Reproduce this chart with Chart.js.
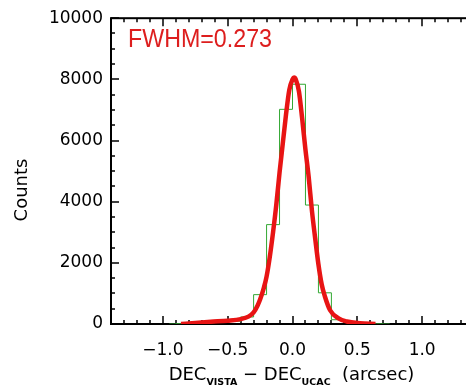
<!DOCTYPE html>
<html>
<head>
<meta charset="utf-8">
<script src="https://cdn.jsdelivr.net/npm/chart.js@4.4.1/dist/chart.umd.min.js"></script>
<style>
  html, body { margin: 0; padding: 0; background: #fff; overflow: hidden; }
  #wrap { width: 480px; height: 388px; }
</style>
</head>
<body>
<div id="wrap"><canvas id="histo" width="480" height="388"></canvas></div>
<script>
// histogram of the offsets, 0.1 arcsec bins (points sit at the bin centres, IDL psym=10 style)
const binCenters = [-0.95, -0.85, -0.75, -0.65, -0.55, -0.45, -0.35, -0.25, -0.15, -0.05,
                    0.05, 0.15, 0.25, 0.35, 0.45, 0.55, 0.65, 0.75];
const binCounts = [0, 10, 20, 40, 60, 90, 230, 960, 3250, 7020,
                   7840, 3890, 1020, 140, 50, 20, 5, 0];

// red fitted profile
const fitX = [-0.86, -0.75, -0.63, -0.5, -0.4, -0.34, -0.3, -0.27, -0.25, -0.22, -0.2, -0.175,
              -0.15, -0.125, -0.1, -0.075, -0.05, -0.025, 0, 0.012, 0.025, 0.05, 0.075, 0.1,
              0.125, 0.15, 0.175, 0.2, 0.225, 0.25, 0.29, 0.355, 0.42, 0.52, 0.64];
const fitY = [0, 35, 75, 110, 160, 240, 380, 600, 800, 1200, 1550, 2200,
              3000, 3900, 4950, 5900, 6850, 7650, 8000, 8060, 8000, 7600, 6700, 5700,
              4800, 3700, 2800, 1950, 1300, 900, 450, 185, 80, 25, 0];

const xTicks = [-1.0, -0.5, 0.0, 0.5, 1.0];
const yTicks = [0, 2000, 4000, 6000, 8000, 10000];
const fwhmLabel = 'FWHM=0.273';

const FONT = 'DejaVu Sans';

// IDL style frame: box with inward ticks, plus the free texts
const idlFrame = {
  id: 'idlFrame',
  beforeDatasetsDraw(chart) {
    const { ctx, chartArea: a, scales: { x, y } } = chart;
    ctx.save();
    ctx.strokeStyle = '#000';
    ctx.lineWidth = 2;
    ctx.strokeRect(a.left, a.top, a.right - a.left, a.bottom - a.top);
    ctx.lineWidth = 1.5;
    ctx.beginPath();
    for (let i = -14; i <= 14; i++) {
      const px = Math.round(x.getPixelForValue(i / 10));
      const len = i % 5 === 0 ? 8 : 4;
      ctx.moveTo(px, a.bottom); ctx.lineTo(px, a.bottom - len);
      ctx.moveTo(px, a.top); ctx.lineTo(px, a.top + len);
    }
    for (let v = 0; v <= 10000; v += 500) {
      const py = Math.round(y.getPixelForValue(v));
      const len = v % 2000 === 0 ? 8 : 4;
      ctx.moveTo(a.left, py); ctx.lineTo(a.left + len, py);
      ctx.moveTo(a.right, py); ctx.lineTo(a.right - len, py);
    }
    ctx.stroke();
    ctx.restore();
  },
  afterDraw(chart) {
    const { ctx } = chart;
    ctx.save();
    // y title
    ctx.fillStyle = '#000';
    ctx.font = '18px ' + FONT;
    ctx.textAlign = 'center';
    ctx.textBaseline = 'middle';
    ctx.translate(22, 190);
    ctx.rotate(-Math.PI / 2);
    ctx.fillText('Counts', 0, 0);
    ctx.restore();

    // x title with subscripts
    ctx.save();
    const big = '18px ' + FONT, small = 'bold 9.5px ' + FONT;
    const parts = [
      ['DEC', big, 0], ['VISTA', small, 5], [' \u2212 ', big, 0],
      ['DEC', big, 0], ['UCAC', small, 5], ['  (arcsec)', big, 0]
    ];
    let total = 0;
    parts.forEach(p => { ctx.font = p[1]; total += ctx.measureText(p[0]).width; });
    let cx = 291.5 - total / 2;
    ctx.fillStyle = '#000';
    ctx.textBaseline = 'alphabetic';
    parts.forEach(p => {
      ctx.font = p[1];
      ctx.fillText(p[0], cx, 380 + p[2]);
      cx += ctx.measureText(p[0]).width;
    });
    ctx.restore();

    // FWHM annotation, squeezed like the IDL font
    ctx.save();
    ctx.font = '25px "Liberation Sans"';
    ctx.fillStyle = '#dd1e1e';
    ctx.textBaseline = 'alphabetic';
    const w = ctx.measureText(fwhmLabel).width;
    ctx.translate(128, 47);
    ctx.scale(144 / w, 1);
    ctx.fillText(fwhmLabel, 0, 0);
    ctx.restore();
  }
};

new Chart(document.getElementById('histo'), {
  type: 'line',
  data: {
    datasets: [
      {
        label: 'fit',
        data: fitX.map((v, i) => ({ x: v, y: fitY[i] })),
        borderColor: '#e81414',
        borderWidth: 4.5,
        pointRadius: 0,
        cubicInterpolationMode: 'monotone',
        fill: false
      },
      {
        label: 'histogram',
        data: binCenters.map((v, i) => ({ x: v, y: binCounts[i] })),
        borderColor: '#33a833',
        borderWidth: 1,
        pointRadius: 0,
        stepped: 'middle',
        fill: false
      }
    ]
  },
  options: {
    responsive: false,
    animation: false,
    devicePixelRatio: 1,
    layout: { padding: { left: 0, top: 14, right: 6, bottom: 0 } },
    plugins: { legend: { display: false }, tooltip: { enabled: false } },
    scales: {
      x: {
        type: 'linear',
        min: -1.4,
        max: 1.4,
        grid: { display: false, drawTicks: false },
        border: { display: false },
        afterBuildTicks: s => { s.ticks = xTicks.map(v => ({ value: v })); },
        afterFit: s => { s.height = 64; },
        ticks: {
          autoSkip: false,
          maxRotation: 0,
          padding: 16,
          color: '#000',
          font: { family: FONT, size: 17 },
          callback: v => v.toFixed(1).replace('-', '\u2212')
        }
      },
      y: {
        min: 0,
        max: 10000,
        grid: { display: false, drawTicks: false },
        border: { display: false },
        afterBuildTicks: s => { s.ticks = yTicks.map(v => ({ value: v })); },
        afterFit: s => { s.width = 111; },
        ticks: {
          padding: 8,
          color: '#000',
          font: { family: FONT, size: 17 },
          callback: v => String(v)
        }
      }
    }
  },
  plugins: [idlFrame]
});
</script>
</body>
</html>
